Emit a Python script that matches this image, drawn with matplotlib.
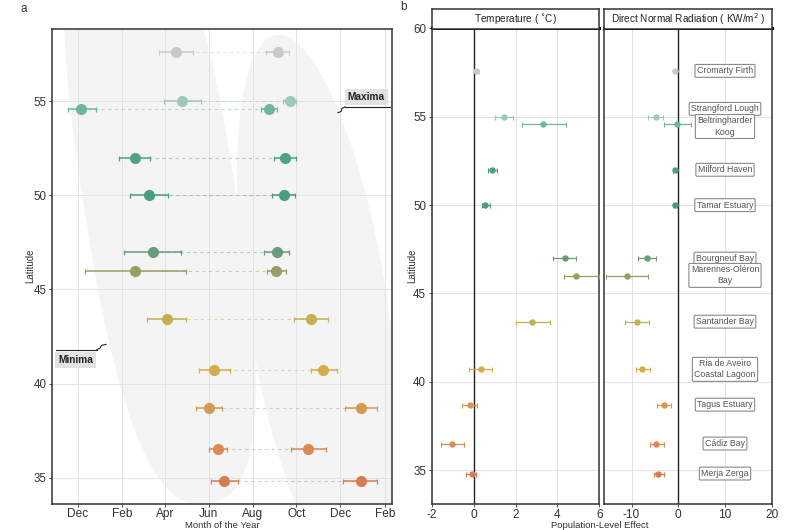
import matplotlib
matplotlib.use('Agg')
import matplotlib.pyplot as plt
import numpy as np

plt.rcParams['font.family'] = ['Liberation Sans', 'DejaVu Sans']

sites = ['Cromarty Firth', 'Strangford Lough', 'Beltringharder\nKoog', 'Milford Haven',
         'Tamar Estuary', 'Bourgneuf Bay', 'Marennes-Oléron\nBay', 'Santander Bay',
         'Ria de Aveiro\nCoastal Lagoon', 'Tagus Estuary', 'Cádiz Bay', 'Merja Zerga']
lat = [57.6, 55.0, 54.6, 52.0, 50.0, 47.0, 46.0, 43.4, 40.7, 38.7, 36.5, 34.8]
# label latitudes after repelling the two close sites apart
label_lat = [57.6, 55.45, 54.45, 52.0, 50.0, 46.97, 46.02, 43.4, 40.7, 38.7, 36.5, 34.8]
colors = ['#c9c9c9', '#9fcab9', '#6db7a0', '#4fa287', '#4c9c80', '#6a9a78',
          '#94a062', '#c2b055', '#d6ab4c', '#d49a52', '#d98a55', '#d67c52']

# day of year (1 Jan = 0), minima / maxima with intervals
min_day = [105, 114, -26, 49, 68, 73, 48, 93, 159, 151, 164, 172]
min_lo = [82, 89, -45, 27, 41, 33, -21, 65, 138, 134, 151, 154]
min_hi = [129, 141, -6, 70, 95, 113, 119, 120, 180, 169, 177, 192]
max_day = [247, 264, 235, 257, 255, 246, 245, 293, 310, 363, 289, 362]
max_lo = [230, 254, 224, 242, 239, 228, 232, 270, 293, 340, 266, 337]
max_hi = [263, 273, 246, 272, 271, 263, 259, 317, 329, 385, 314, 385]

month_ticks = [-31, 31, 90, 151, 212, 273, 334, 396]
month_labels = ['Dec', 'Feb', 'Apr', 'Jun', 'Aug', 'Oct', 'Dec', 'Feb']

temp = [0.11, 1.45, 3.29, 0.89, 0.56, 4.35, 4.91, 2.81, 0.33, -0.18, -1.02, -0.10]
temp_lo = [-0.01, 1.0, 2.33, 0.67, 0.42, 3.8, 4.32, 2.0, -0.22, -0.54, -1.56, -0.35]
temp_hi = [0.25, 1.9, 4.4, 1.12, 0.77, 4.9, 5.97, 3.64, 0.88, 0.18, -0.48, 0.11]
rad = [-0.64, -4.78, -0.2, -0.7, -0.7, -6.8, -10.9, -8.8, -7.7, -3.13, -4.7, -4.35]
rad_lo = [-0.95, -6.55, -3.1, -1.1, -1.1, -8.6, -15.4, -11.3, -9.1, -4.56, -6.06, -5.27]
rad_hi = [-0.35, -3.2, 2.8, -0.3, -0.3, -4.85, -6.4, -6.2, -6.06, -1.56, -3.13, -3.13]

W, H = 800, 530
fig = plt.figure(figsize=(8, 5.3), dpi=100)


def box(x0, y0, x1, y1):
    return [x0 / W, 1 - y1 / H, (x1 - x0) / W, (y1 - y0) / H]


frame_col = '#333333'
grid_col = '#e3e3e3'
txt_col = '#333333'


def style(ax):
    for s in ax.spines.values():
        s.set_color(frame_col)
        s.set_linewidth(1.1)
    ax.tick_params(colors=frame_col, labelsize=8.3, length=2.5, width=0.6,
                   labelcolor=txt_col, pad=1.5)
    ax.tick_params(axis='x', pad=0.6)
    ax.grid(True, color=grid_col, lw=0.7)
    ax.set_axisbelow(True)


# ---------------- panel a ----------------
axa = fig.add_axes(box(52, 29, 392, 504))
style(axa)
axa.set_xlim(-66.7, 405.7)
axa.set_ylim(33.6, 58.83)
axa.set_xticks(month_ticks)
axa.set_xticklabels(month_labels, fontsize=8.6)
axa.set_yticks([35, 40, 45, 50, 55])
fig.text(30 / W, 1 - 266 / H, 'Latitude', rotation=90, ha='center', va='center',
         fontsize=7, color=txt_col)
fig.text(222 / W, 1 - 525 / H, 'Month of the Year', ha='center', va='center',
         fontsize=6.8, color=txt_col)

# shaded seasonal bands in pixel space: center, major semi-axis vector, minor half width, exponent
bands = [((160, 200), (48, 303), 76, 2.6), ((318, 310), (42, 275), 70, 2.0)]
t = np.linspace(0, 2 * np.pi, 400)
for (cx, cy), (mx, my), b, p in bands:
    n = np.hypot(mx, my)
    ux, uy = my / n * b, -mx / n * b
    ct = np.sign(np.cos(t)) * np.abs(np.cos(t)) ** (2 / p)
    sn = np.sign(np.sin(t)) * np.abs(np.sin(t)) ** (2 / p)
    px = cx + mx * ct + ux * sn
    py = cy + my * ct + uy * sn
    axa.fill((px - 52) / 340, (504 - py) / 475, color='#f4f4f4', transform=axa.transAxes,
             zorder=0.5, lw=0)
axa.grid(True, color=grid_col, lw=0.7, zorder=0.6)

for i in range(len(lat)):
    c = colors[i]
    axa.plot([min_day[i], max_day[i]], [lat[i], lat[i]], ls=(0, (3, 3)), color=c,
             lw=0.8, alpha=0.45, zorder=2)
    for d, lo, hi in [(min_day[i], min_lo[i], min_hi[i]), (max_day[i], max_lo[i], max_hi[i])]:
        axa.errorbar(d, lat[i], xerr=[[d - lo], [hi - d]], fmt='o', color=c, ms=7,
                     elinewidth=1.1, capsize=1.8, capthick=0.9, zorder=3)

# labels Maxima / Minima
axa.text(0.924, 0.857, 'Maxima', transform=axa.transAxes, ha='center', va='center',
         fontsize=7.3, fontweight='bold', color='#222222',
         bbox=dict(boxstyle='square,pad=0.3', fc='#e2e2e2', ec='none'))
axa.plot([0.862, 0.994], [0.836, 0.836], color='#222222', lw=0.8, transform=axa.transAxes)
axa.plot([0.841, 0.850, 0.853, 0.862], [0.824, 0.826, 0.833, 0.836], color='#222222',
         lw=0.8, transform=axa.transAxes)
axa.text(0.069, 0.303, 'Minima', transform=axa.transAxes, ha='center', va='center',
         fontsize=7.3, fontweight='bold', color='#222222',
         bbox=dict(boxstyle='square,pad=0.3', fc='#e2e2e2', ec='none'))
axa.plot([0.012, 0.132], [0.325, 0.325], color='#222222', lw=0.8, transform=axa.transAxes)
axa.plot([0.132, 0.141, 0.146, 0.159], [0.325, 0.328, 0.334, 0.336], color='#222222',
         lw=0.8, transform=axa.transAxes)

fig.text(24 / W, 1 - 9 / H, 'a', fontsize=8.5, color=txt_col, ha='center', va='center')
fig.text(404 / W, 1 - 7 / H, 'b', fontsize=8.5, color=txt_col, ha='center', va='center')

# ---------------- panel b ----------------
axt = fig.add_axes(box(431.7, 28.5, 599.3, 504.3))
axr = fig.add_axes(box(604, 28.5, 771.7, 504.3))
for ax in (axt, axr):
    style(ax)
    ax.set_ylim(33.06, 60)
    ax.set_yticks([35, 40, 45, 50, 55, 60])
    ax.axhline(60, color='black', lw=2.2, clip_on=False, zorder=5)
axt.set_xlim(-2, 6)
axt.set_xticks([-2, 0, 2, 4, 6])
axr.set_xlim(-15.9, 20)
axr.set_xticks([-10, 0, 10, 20])
axr.set_yticklabels([])
axr.tick_params(axis='y', length=0)
axt.set_xticklabels(['-2', '0', '2', '4', '6'], fontsize=8.6)
axr.set_xticklabels(['-10', '0', '10', '20'], fontsize=8.6)
fig.text(412 / W, 1 - 266 / H, 'Latitude', rotation=90, ha='center', va='center',
         fontsize=7, color=txt_col)
axt.axvline(0, color='#222222', lw=1.0, zorder=1)
axr.axvline(0, color='#222222', lw=1.0, zorder=1)

for i in range(len(lat)):
    c = colors[i]
    axt.errorbar(temp[i], lat[i], xerr=[[temp[i] - temp_lo[i]], [temp_hi[i] - temp[i]]],
                 fmt='o', color=c, ms=3.6, elinewidth=0.9, capsize=1.8, capthick=0.8, zorder=3)
    axr.errorbar(rad[i], lat[i], xerr=[[rad[i] - rad_lo[i]], [rad_hi[i] - rad[i]]],
                 fmt='o', color=c, ms=3.6, elinewidth=0.9, capsize=1.8, capthick=0.8, zorder=3)
    axr.text(10, label_lat[i], sites[i], ha='center', va='center', fontsize=6.3,
             color='#555555', linespacing=1.3, zorder=4,
             bbox=dict(boxstyle='round,pad=0.22,rounding_size=0.12', fc='white',
                       ec='#8a8a8a', lw=0.8))

# facet strips
for (x0, x1), label in [((431.7, 599.3), 'Temperature ( $^{\\circ}$C)'),
                        ((604, 771.7), 'Direct Normal Radiation ( KW/m$^{2}$ )')]:
    st = fig.add_axes(box(x0, 9, x1, 28.5))
    st.set_xticks([])
    st.set_yticks([])
    for s in st.spines.values():
        s.set_color(frame_col)
        s.set_linewidth(1.1)
    st.text(0.5, 0.5, label, ha='center', va='center', fontsize=7.2, color='#222222',
            transform=st.transAxes)

fig.text(600 / W, 1 - 525 / H, 'Population-Level Effect', ha='center', va='center',
         fontsize=6.8, color=txt_col)

fig.savefig('out.png', dpi=100)
